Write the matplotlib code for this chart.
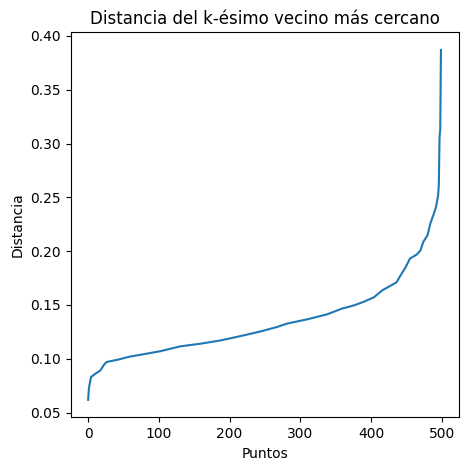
import matplotlib
matplotlib.use("Agg")
import matplotlib.pyplot as plt

# === DONNEES ===
puntos = [0, 1, 2, 4, 10, 17, 22, 26, 41, 59, 74, 102, 130, 159, 187, 215, 244,
          267, 281, 310, 338, 359, 376, 390, 404, 416, 428, 436, 442, 449, 455,
          465, 470, 474, 480, 484, 489, 492, 495, 496, 497, 498, 499]
distancia = [0.0618, 0.072, 0.076, 0.083, 0.086, 0.089, 0.094, 0.097, 0.099, 0.102,
             0.1037, 0.107, 0.1115, 0.114, 0.117, 0.121, 0.1254, 0.1295, 0.1326,
             0.1367, 0.1413, 0.1466, 0.1496, 0.153, 0.157, 0.1636, 0.168, 0.171,
             0.1776, 0.185, 0.193, 0.197, 0.2007, 0.2086, 0.2148, 0.2257, 0.235,
             0.241, 0.252, 0.262, 0.306, 0.313, 0.387]

# === GRAPHIQUE ===
fig = plt.figure(figsize=(4.67, 4.70), dpi=100)
ax = fig.add_axes([0.151, 0.112, 0.831, 0.819])
ax.plot(puntos, distancia, color="#1f77b4", linewidth=1.5)
ax.set_title("Distancia del k-ésimo vecino más cercano")
ax.set_xlabel("Puntos")
ax.set_ylabel("Distancia")
ax.set_xticks([0, 100, 200, 300, 400, 500])
fig.savefig("out.png", dpi=100)
